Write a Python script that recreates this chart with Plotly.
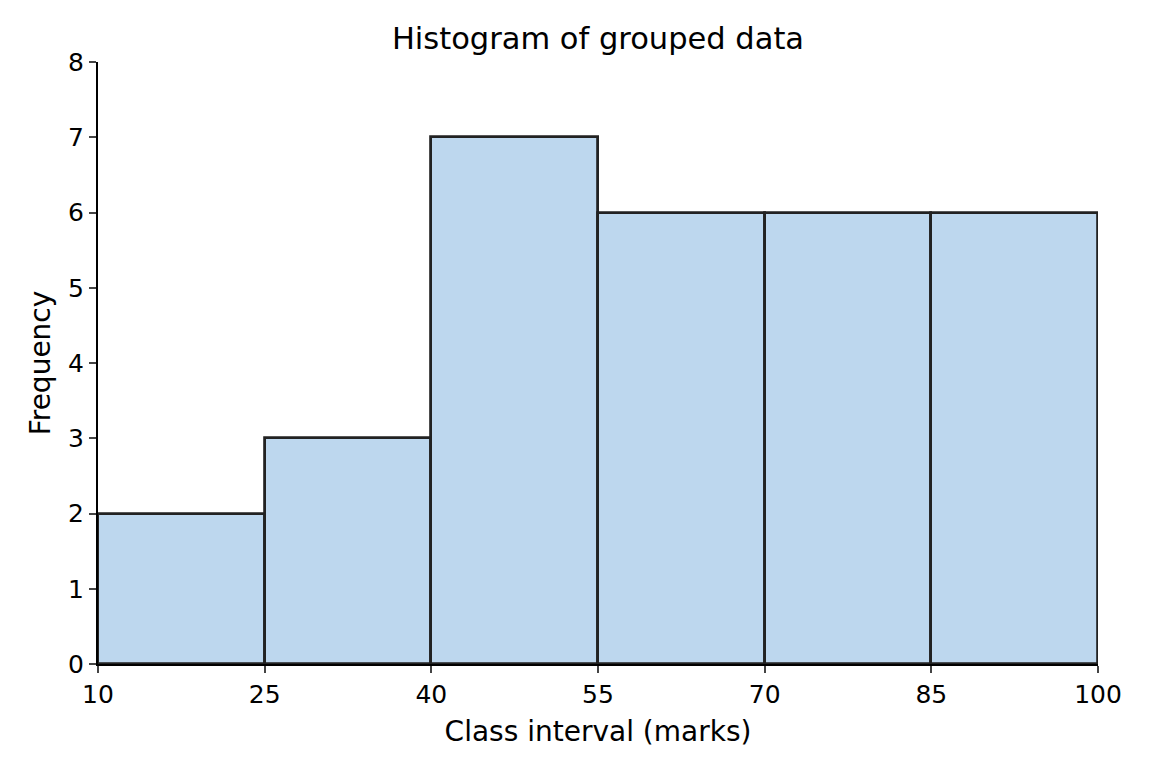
import plotly.graph_objects as go

# class intervals (bin edges) and frequencies
edges = [10, 25, 40, 55, 70, 85, 100]
freq = [2, 3, 7, 6, 6, 6]

mids = [(edges[i] + edges[i + 1]) / 2 for i in range(len(freq))]
widths = [edges[i + 1] - edges[i] for i in range(len(freq))]

fig = go.Figure(go.Bar(
    x=mids, y=freq, width=widths,
    marker=dict(color="rgb(189,215,238)", line=dict(color="#222222", width=2.8)),
))

fig.update_layout(
    width=1151, height=772,
    margin=dict(l=90, r=61, t=54, b=116),
    plot_bgcolor="white", paper_bgcolor="white",
    font=dict(family="DejaVu Sans", size=23.7, color="black"),
    title=dict(text="Histogram of grouped data", xref="paper", x=0.5, xanchor="center",
               y=1 - 30 / 772, yanchor="middle", font=dict(size=30.5)),
    showlegend=False,
    bargap=0,
)
fig.update_xaxes(range=[10, 100], tickvals=edges, ticks="outside", ticklen=7, tickwidth=2,
                 tickfont=dict(size=25),
                 showline=True, linecolor="black", linewidth=2, showgrid=False, zeroline=False,
                 title=dict(text="Class interval (marks)", standoff=13))
fig.update_yaxes(range=[0, 8], dtick=1, ticks="outside", ticklen=7, tickwidth=2,
                 tickfont=dict(size=25),
                 showline=True, linecolor="black", linewidth=2, showgrid=False, zeroline=False,
                 title=dict(text="Frequency", standoff=9))

fig.write_html("out.html")
